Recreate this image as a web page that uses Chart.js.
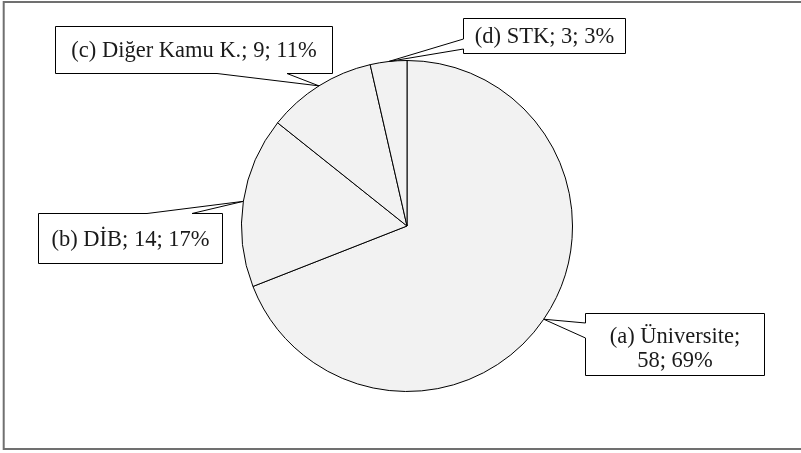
<!DOCTYPE html>
<html>
<head>
<meta charset="utf-8">
<script src="https://cdn.jsdelivr.net/npm/chart.js@4.4.0/dist/chart.umd.min.js"></script>
<style>
  html, body { margin:0; padding:0; background:#fff; }
  #wrap { position:relative; width:801px; height:453px; }
  .lbl {
    position:absolute; display:flex; align-items:center; justify-content:center;
    text-align:center; font-family:'Liberation Serif', 'Times New Roman', Times, 'DejaVu Serif', serif;
    font-size:22.5px; line-height:24px; color:#1a1a1a; white-space:nowrap;
  }
</style>
</head>
<body>
<div id="wrap"><canvas id="pie" width="801" height="453"></canvas></div>
<script>
const labels = ['(a) Üniversite', '(b) DİB', '(c) Diğer Kamu K.', '(d) STK']
const values = [58, 14, 9, 3]
const percents = [69, 17, 11, 3]

// callout boxes: box rect + which side the pointer leaves from (p1/p2 along that side)
const callouts = [
  { x:585, y:313, w:179, h:62, side:'left',   p1:323, p2:338, split:true },
  { x:38,  y:213, w:184, h:50, side:'top',    p1:147, p2:192 },
  { x:55,  y:26,  w:277, h:47, side:'bottom', p1:217, p2:287 },
  { x:463, y:18,  w:162, h:35, side:'left',   p1:39,  p2:49 }
]

const calloutPlugin = {
  id: 'callouts',
  afterDraw(chart){
    const ctx = chart.ctx
    const meta = chart.getDatasetMeta(0)
    ctx.save()
    // outer frame
    ctx.strokeStyle = '#707070'
    ctx.lineWidth = 2
    ctx.strokeRect(3.7, 2, 802, 447)

    meta.data.forEach((arc, i) => {
      const c = callouts[i]
      const mid = (arc.startAngle + arc.endAngle) / 2
      const tx = arc.x + Math.cos(mid) * arc.outerRadius
      const ty = arc.y + Math.sin(mid) * arc.outerRadius
      const L = c.x + 0.5, T = c.y + 0.5, R = c.x + c.w + 0.5, B = c.y + c.h + 0.5
      ctx.beginPath()
      if (c.side === 'left'){
        ctx.moveTo(L, T); ctx.lineTo(R, T); ctx.lineTo(R, B); ctx.lineTo(L, B)
        ctx.lineTo(L, c.p2); ctx.lineTo(tx, ty); ctx.lineTo(L, c.p1)
      } else if (c.side === 'top'){
        ctx.moveTo(L, B); ctx.lineTo(L, T); ctx.lineTo(c.p1, T); ctx.lineTo(tx, ty)
        ctx.lineTo(c.p2, T); ctx.lineTo(R, T); ctx.lineTo(R, B)
      } else {
        ctx.moveTo(L, T); ctx.lineTo(R, T); ctx.lineTo(R, B); ctx.lineTo(c.p2, B)
        ctx.lineTo(tx, ty); ctx.lineTo(c.p1, B); ctx.lineTo(L, B)
      }
      ctx.closePath()
      ctx.fillStyle = '#fff'
      ctx.fill()
      ctx.strokeStyle = '#000'
      ctx.lineWidth = 1
      ctx.stroke()
    })
    ctx.restore()
  }
}

new Chart(document.getElementById('pie'), {
  type: 'pie',
  data: {
    labels,
    datasets: [{
      data: values,
      backgroundColor: '#f2f2f2',
      borderColor: '#000',
      borderWidth: 1,
      hoverOffset: 0
    }]
  },
  options: {
    responsive: false,
    animation: false,
    layout: { padding: { left: 241, right: 228, top: 60, bottom: 61 } },
    plugins: { legend: { display:false }, tooltip: { enabled:false } }
  },
  plugins: [calloutPlugin]
})

// label text as html on top of the callout boxes
const wrap = document.getElementById('wrap')
callouts.forEach((c, i) => {
  const tail = values[i] + '; ' + percents[i] + '%'
  const div = document.createElement('div')
  div.className = 'lbl'
  div.style.left = (c.x + 1) + 'px'
  div.style.top = (c.y + 1 + (c.split ? 3 : 0)) + 'px'
  div.style.width = (c.w - 1) + 'px'
  div.style.height = (c.h - 1) + 'px'
  if (c.split) {
    div.innerHTML = labels[i] + ';<br>' + tail
  } else {
    div.textContent = labels[i] + '; ' + tail
  }
  wrap.appendChild(div)
})
</script>
</body>
</html>
